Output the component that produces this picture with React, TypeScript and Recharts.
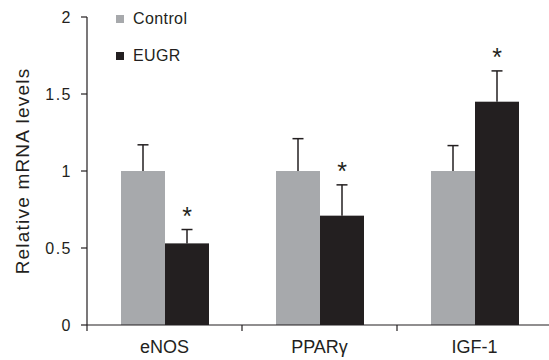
import { Bar, BarChart, Legend, XAxis, YAxis } from "recharts"

const categories = ["eNOS", "PPARγ", "IGF-1"]
const controlValues = [1.0, 1.0, 1.0]
const eugrValues = [0.53, 0.71, 1.45]
const controlErrors = [0.17, 0.21, 0.165]
const eugrErrors = [0.09, 0.2, 0.2]
const eugrMarks = ["*", "*", "*"]
const yTicks = [0, 0.5, 1, 1.5, 2]

const data = categories.map((name, i) => ({
  name,
  control: controlValues[i],
  eugr: eugrValues[i],
  controlErr: controlErrors[i],
  eugrErr: eugrErrors[i],
  mark: eugrMarks[i],
}))

const FONT = "'Liberation Sans', Arial, sans-serif"
const GREY = "#a7a9ac"
const DARK = "#231f20"

// bar with a one-sided (upward) error bar and optional significance mark
const barShape = (valueKey: string, errKey: string, withMark: boolean) => (props: any) => {
  const { x, y, width, height, payload, fill } = props
  const v = payload[valueKey]
  const pxPerUnit = v ? height / v : 0
  const errTop = y - payload[errKey] * pxPerUnit
  const cx = x + width / 2
  return (
    <g>
      <rect x={x} y={y} width={width} height={height} fill={fill} />
      <line x1={cx} x2={cx} y1={y} y2={errTop} stroke={DARK} strokeWidth={1.5} />
      <line x1={cx - 5.5} x2={cx + 5.5} y1={errTop} y2={errTop} stroke={DARK} strokeWidth={1.5} />
      {withMark && payload.mark ? (
        <text x={cx} y={errTop - 5} textAnchor="middle" fontSize={25} fontFamily={FONT} fill={DARK}>
          {payload.mark}
        </text>
      ) : null}
    </g>
  )
}

const XTick = (props: any) => {
  const { x, y, payload } = props
  const off = payload.offset ?? 77.5
  return (
    <g>
      <line x1={x - off} x2={x - off} y1={y} y2={y + 6} stroke={DARK} strokeWidth={1.2} />
      <text x={x} y={y + 28} textAnchor="middle" fontSize={18} fontFamily={FONT} fill={DARK}>
        {payload.value}
      </text>
    </g>
  )
}

const YLabel = (props: any) => {
  const vb = props.viewBox
  const lx = vb.x + 29
  const ly = vb.y + vb.height / 2
  return (
    <text
      x={lx}
      y={ly}
      transform={`rotate(-90 ${lx} ${ly})`}
      textAnchor="middle"
      fontSize={19}
      letterSpacing={1.2}
      fontFamily={FONT}
      fill={DARK}
    >
      Relative mRNA levels
    </text>
  )
}

const LegendBox = () => {
  const items = [
    { label: "Control", color: GREY },
    { label: "EUGR", color: DARK },
  ]
  return (
    <div style={{ fontFamily: FONT }}>
      {items.map((it) => (
        <div
          key={it.label}
          style={{ display: "flex", alignItems: "center", height: 21, marginBottom: 16 }}
        >
          <span style={{ width: 8, height: 8, background: it.color, display: "inline-block" }} />
          <span style={{ marginLeft: 9, fontSize: 16, letterSpacing: 0.4, color: DARK }}>
            {it.label}
          </span>
        </div>
      ))}
    </div>
  )
}

export default function App() {
  return (
    <div style={{ position: "absolute", left: 0, top: 0 }}>
      <BarChart
        width={560}
        height={360}
        data={data}
        margin={{ top: 17, right: 8, left: 0, bottom: 0 }}
        barGap={0}
        barSize={44}
      >
        <XAxis
          dataKey="name"
          height={35}
          tickSize={0}
          tickMargin={0}
          tickLine={false}
          axisLine={{ stroke: DARK, strokeWidth: 1.2 }}
          tick={<XTick />}
        />
        <YAxis
          width={87}
          domain={[0, 2]}
          ticks={yTicks}
          interval={0}
          tickSize={6}
          tickMargin={9}
          tickLine={{ stroke: DARK, strokeWidth: 1.2 }}
          axisLine={{ stroke: DARK, strokeWidth: 1.2 }}
          tick={{ fill: DARK, fontSize: 16, fontFamily: FONT, letterSpacing: 1.5 }}
          label={<YLabel />}
        />
        <Legend
          verticalAlign="middle"
          align="center"
          layout="vertical"
          wrapperStyle={{ left: 116, top: 8, width: "auto" }}
          content={<LegendBox />}
        />
        <Bar
          dataKey="control"
          fill={GREY}
          isAnimationActive={false}
          shape={barShape("control", "controlErr", false)}
        />
        <Bar
          dataKey="eugr"
          fill={DARK}
          isAnimationActive={false}
          shape={barShape("eugr", "eugrErr", true)}
        />
      </BarChart>
    </div>
  )
}
